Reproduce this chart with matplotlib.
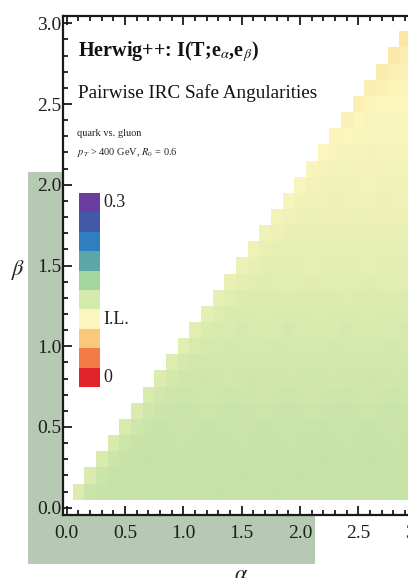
import matplotlib.pyplot as plt
import numpy as np
from matplotlib.colors import LinearSegmentedColormap
from matplotlib.patches import Rectangle

plt.rcParams['font.family'] = ['Liberation Serif', 'DejaVu Serif']
plt.rcParams['mathtext.fontset'] = 'stix'

# angular exponents of the two angularities
alpha = [0.1, 0.2, 0.3, 0.4, 0.5, 0.6, 0.7, 0.8, 0.9, 1.0,
         1.1, 1.2, 1.3, 1.4, 1.5, 1.6, 1.7, 1.8, 1.9, 2.0,
         2.1, 2.2, 2.3, 2.4, 2.5, 2.6, 2.7, 2.8, 2.9, 3.0]
beta = alpha[:]

# mutual information (in 1/1000), one row per beta, alpha running from beta up to 3.0
mi_rows = [
    "128 141 144 145 144 143 144 145 144 144 143 144 145 144 143 144 144 145 144 143 144 144 145 144 143 144 144 145 144 143",
    "130 141 144 144 145 144 143 144 145 144 144 143 144 145 144 144 143 144 145 144 143 144 144 145 144 143 144 144 145",
    "131 141 143 144 145 144 144 143 144 145 144 143 144 144 145 144 143 144 144 145 144 143 144 145 144 143 144 144",
    "131 140 143 143 144 143 142 143 144 143 143 142 143 144 143 142 143 144 143 143 142 143 144 143 142 143 143",
    "131 139 142 143 142 141 142 143 142 142 141 142 143 142 141 142 142 143 142 141 142 143 142 141 142 142",
    "130 138 141 141 142 141 140 141 142 141 141 140 141 142 141 140 141 141 142 141 140 141 142 141 140",
    "129 136 139 140 139 138 139 140 139 139 138 139 140 139 138 139 139 140 139 138 139 140 139 138",
    "128 135 138 138 139 138 137 138 139 138 138 137 138 139 138 137 138 138 139 138 137 138 139",
    "126 133 136 137 136 135 136 137 136 136 135 136 137 136 135 136 136 137 136 135 136 137",
    "124 131 134 134 135 134 133 134 135 134 134 133 134 135 134 133 134 134 135 134 133",
    "122 129 132 132 133 132 131 132 133 132 132 131 132 133 132 131 132 132 133 132",
    "120 126 129 130 129 128 129 130 129 129 128 129 130 129 128 129 129 130 129",
    "118 124 127 127 128 127 126 127 128 127 127 126 127 128 127 126 127 127",
    "116 121 124 125 124 123 124 125 124 124 123 124 125 124 123 124 124",
    "113 118 121 121 122 121 120 121 122 121 121 120 121 122 121 120",
    "111 116 119 119 120 119 118 119 120 119 119 118 119 120 119",
    "109 113 116 117 116 115 116 117 116 116 115 116 117 116",
    "107 111 113 114 113 112 113 114 113 113 112 113 114",
    "105 109 111 111 112 111 110 111 112 111 111 110",
    "103 107 109 109 110 109 108 109 110 109 109",
    "102 105 107 108 107 106 107 108 107 107",
    "100 103 105 105 106 105 104 105 106",
    "99 101 103 104 103 102 103 104",
    "97 100 102 102 103 102 101",
    "96 98 100 101 100 99",
    "94 96 98 99 98",
    "92 95 97 97",
    "91 93 95",
    "89 92",
    "88",
]

# legend swatches, bottom (0) to top (0.3)
legend_colors = ["#e0242a", "#f27b47", "#fac87c", "#fbf6bd", "#d6e9ac",
                 "#a4d59e", "#5ba7a7", "#2f7fc0", "#4159a7", "#693e9f"]
legend_labels = {9: "0.3", 3: "I.L.", 0: "0"}

Z = np.full((len(beta), len(alpha)), np.nan)
for j, row in enumerate(mi_rows):
    vals = [int(v) / 1000 for v in row.split()]
    Z[j, j:j + len(vals)] = vals

a_edges = np.append(np.array(alpha) - 0.05, alpha[-1] + 0.05)
b_edges = np.append(np.array(beta) - 0.05, beta[-1] + 0.05)

cmap = LinearSegmentedColormap.from_list("mi", legend_colors)

W, H = 408, 578
fig = plt.figure(figsize=(W / 100, H / 100), dpi=100)

# greenish highlight behind the frame labels
hl = "#b5c9b3"
fig.add_artist(Rectangle((28 / W, 1 - 516 / H), 35 / W, 344 / H, transform=fig.transFigure,
                         facecolor=hl, edgecolor="none", zorder=-5))
fig.add_artist(Rectangle((28 / W, 1 - 564 / H), 287 / W, 48 / H, transform=fig.transFigure,
                         facecolor=hl, edgecolor="none", zorder=-5))

ax = fig.add_axes([63 / W, 1 - 515 / H, 357.5 / W, 499 / H])
ax.set_zorder(1)
ax.patch.set_facecolor("white")
ax.pcolormesh(a_edges, b_edges, np.ma.masked_invalid(Z), cmap=cmap, vmin=0, vmax=0.3,
              shading="flat")

ax.set_xlim(-0.032, 3.032)
ax.set_ylim(-0.045, 3.045)
ax.set_xticks(np.arange(0, 3.01, 0.5))
ax.set_yticks(np.arange(0, 3.01, 0.5))
ax.set_xticklabels(["%.1f" % t for t in np.arange(0, 3.01, 0.5)])
ax.set_yticklabels(["%.1f" % t for t in np.arange(0, 3.01, 0.5)])
ax.set_xticks(np.arange(0, 3.01, 0.1), minor=True)
ax.set_yticks(np.arange(0, 3.01, 0.1), minor=True)
ax.tick_params(which="both", direction="in", top=True, right=True, color="#1a1a1a",
               width=1.3, labelsize=14, labelcolor="#1e1e1e")
ax.tick_params(which="major", length=6.5)
ax.tick_params(which="minor", length=3.5)
ax.tick_params(axis="x", pad=7)
ax.tick_params(axis="y", pad=1)
for s in ax.spines.values():
    s.set_linewidth(1.6)
    s.set_color("#1a1a1a")

fig.text(78 / W, 1 - 52 / H, r"Herwig++: I(T;e$_{\alpha}$,e$_{\beta}$)", fontsize=14.5,
         fontweight="bold", va="center", ha="left", color="#111111", zorder=5)
fig.text(78 / W, 1 - 93 / H, "Pairwise IRC Safe Angularities", fontsize=13.8,
         va="center", ha="left", color="#111111", zorder=5)
fig.text(77 / W, 1 - 133 / H, "quark vs. gluon", fontsize=7.5, va="center", ha="left",
         color="#222222", zorder=5)
fig.text(77 / W, 1 - 153 / H, r"$p_T$ > 400 GeV, $R_0$ = 0.6", fontsize=7.5, va="center",
         ha="left", color="#222222", zorder=5)

# stepped legend
top, step = 193, 19.4
for k, c in enumerate(legend_colors):
    y0 = top + (9 - k) * step
    fig.add_artist(Rectangle((79 / W, 1 - (y0 + step) / H), 21 / W, step / H,
                             transform=fig.transFigure, facecolor=c, edgecolor="none", zorder=5))
    if k in legend_labels:
        fig.text(103 / W, 1 - (y0 + step / 2) / H, legend_labels[k], fontsize=13,
                 va="center", ha="left", color="#222222", zorder=5)

fig.text(18 / W, 1 - 270 / H, r"$\beta$", fontsize=16, va="center", ha="center", color="#222222")
fig.text(241 / W, 1 - 576 / H, r"$\alpha$", fontsize=16, va="center", ha="center", color="#222222")

fig.savefig("out.png", dpi=100)
